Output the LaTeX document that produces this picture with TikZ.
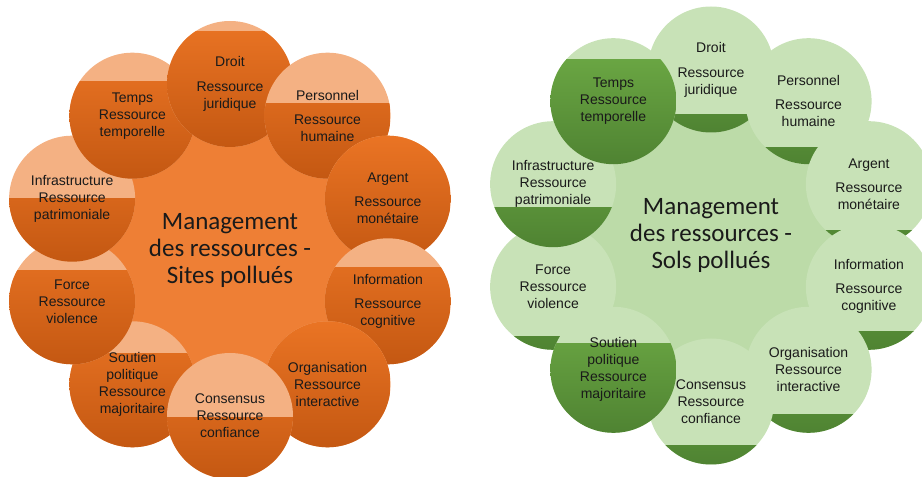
\documentclass[tikz,border=0pt]{standalone}
\usepackage{fontspec}
\usepackage{xcolor}
\usepackage{tikz}
\newfontfamily\satfont{Liberation Sans}
\newfontfamily\ctrfont{Carlito}
\definecolor{orangeCentre}{HTML}{EE7F35}
\definecolor{orangeClair}{HTML}{F4B183}
\definecolor{orangeHaut}{HTML}{EA7424}
\definecolor{orangeBas}{HTML}{C45812}
\definecolor{vertCentre}{HTML}{BCDBA8}
\definecolor{vertClair}{HTML}{C8E2B7}
\definecolor{vertHaut}{HTML}{6FAC46}
\definecolor{vertBas}{HTML}{4F8332}
\definecolor{texte}{HTML}{1A1A1A}

\begin{document}
\begin{tikzpicture}[
    x=1pt, y=1pt,
    sat/.style={circle, minimum size=126pt, inner sep=0pt, align=center, text=texte,
        font={\satfont\fontsize{14}{17}\selectfont}},
    osat/.style={sat, fill=orangeClair,
        path picture={\shade[top color=orangeHaut, bottom color=orangeBas]
            (path picture bounding box.south west) rectangle ([yshift=#1]path picture bounding box.south east);}},
    gsat/.style={sat, fill=vertClair,
        path picture={\shade[top color=vertHaut, bottom color=vertBas]
            (path picture bounding box.south west) rectangle ([yshift=#1]path picture bounding box.south east);}},
    centre/.style={circle, minimum size=280pt, inner sep=0pt, align=center, text=texte,
        font={\ctrfont\fontsize{25}{27}\selectfont}}
]
\useasboundingbox (0,0) rectangle (922,477);
\coordinate (ringL) at (230,227);
\coordinate (ringR) at (711,241.5);

\node[centre, fill=orangeCentre] (mgtL) at (ringL) {Management\\des ressources -\\Sites pollués};
\node[osat=94pt] (soutienL) at ([shift={(-126:166)}]ringL) {Soutien\\politique\\Ressource\\majoritaire};
\node[osat=94pt] (forceL) at ([shift={(-162:166)}]ringL) {Force\\Ressource\\violence};
\node[osat=63pt] (infraL) at ([shift={(162:166)}]ringL) {Infrastructure\\Ressource\\patrimoniale};
\node[osat=97pt] (tempsL) at ([shift={(126:166)}]ringL) {Temps\\Ressource\\temporelle};
\node[osat=115pt] (droitL) at ([shift={(90:166)}]ringL) {Droit\\[8pt]Ressource\\juridique};
\node[osat=75pt] (personnelL) at ([shift={(54:166)}]ringL) {Personnel\\[7pt]Ressource\\humaine};
\node[osat=126pt] (argentL) at ([shift={(18:166)}]ringL) {Argent\\[7pt]Ressource\\monétaire};
\node[osat=97pt] (infoL) at ([shift={(-18:166)}]ringL) {Information\\[7pt]Ressource\\cognitive};
\node[osat=126pt] (orgaL) at ([shift={(-54:166)}]ringL) {Organisation\\Ressource\\interactive};
\node[osat=61pt] (consensusL) at ([shift={(-90:166)}]ringL) {Consensus\\Ressource\\confiance};

\node[centre, fill=vertCentre] (mgtR) at (ringR) {Management\\des ressources -\\Sols pollués};
\node[gsat=18pt] (droitR) at ([shift={(90:166)}]ringR) {Droit\\[8pt]Ressource\\juridique};
\node[gsat=17pt] (personnelR) at ([shift={(54:166)}]ringR) {Personnel\\[7pt]Ressource\\humaine};
\node[gsat=17pt] (argentR) at ([shift={(18:166)}]ringR) {Argent\\[7pt]Ressource\\monétaire};
\node[gsat=18pt] (infoR) at ([shift={(-18:166)}]ringR) {Information\\[7pt]Ressource\\cognitive};
\node[gsat=18pt] (orgaR) at ([shift={(-54:166)}]ringR) {Organisation\\Ressource\\interactive};
\node[gsat=19pt] (consensusR) at ([shift={(-90:166)}]ringR) {Consensus\\Ressource\\confiance};
\node[gsat=13pt] (forceR) at ([shift={(-162:166)}]ringR) {Force\\Ressource\\violence};
\node[gsat=89pt] (soutienR) at ([shift={(-126:166)}]ringR) {Soutien\\politique\\Ressource\\majoritaire};
\node[gsat=40pt] (infraR) at ([shift={(162:166)}]ringR) {Infrastructure\\Ressource\\patrimoniale};
\node[gsat=105pt] (tempsR) at ([shift={(126:166)}]ringR) {Temps\\Ressource\\temporelle};
\end{tikzpicture}
\end{document}
